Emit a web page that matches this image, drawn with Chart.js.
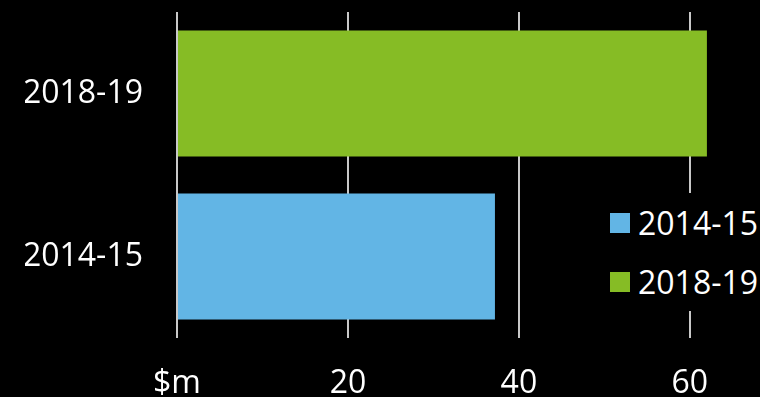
<!DOCTYPE html>
<html>
<head>
<meta charset="utf-8">
<script src="https://cdn.jsdelivr.net/npm/chart.js@4/dist/chart.umd.min.js"></script>
<style>
  html, body { margin: 0; padding: 0; background: #000; }
  #wrap { position: relative; width: 760px; height: 397px; }
  #legend {
    position: absolute; left: 604px; top: 193px;
    background: #000; padding: 0 6px;
    font-family: "Open Sans", sans-serif; font-size: 32px; color: #fff;
    white-space: nowrap;
  }
  #legend .row { display: flex; align-items: center; height: 59px; }
  #legend .sw { width: 20px; height: 20px; margin-right: 8px; flex: none; }
</style>
</head>
<body>
<div id="wrap">
  <canvas id="chart" width="760" height="397"></canvas>
  <div id="legend"></div>
</div>
<script>
// --- Spending by year ($m) ---
const years = ["2014-15", "2018-19"];
const spend = [37.2, 62.0];
const barColors = ["#62b5e5", "#86bc25"];
const xTicks = [0, 20, 40, 60];

const FONT = { family: "Open Sans", size: 32 };

function drawChart() {
  const ctx = document.getElementById("chart").getContext("2d");
  new Chart(ctx, {
    type: "bar",
    data: {
      labels: years,
      datasets: [{
        label: "$m",
        data: spend,
        backgroundColor: barColors,
        barPercentage: 0.773,
        categoryPercentage: 1
      }]
    },
    options: {
      indexAxis: "y",
      responsive: false,
      animation: false,
      layout: { padding: { left: 25, right: 36, top: 12, bottom: 0 } },
      plugins: { legend: { display: false }, tooltip: { enabled: false } },
      scales: {
        x: {
          min: 0,
          max: 64,
          afterBuildTicks: axis => {
            axis.ticks = xTicks.map(v => ({ value: v }));
          },
          afterFit: axis => {
            axis.height = 59;
            axis.paddingLeft = 0;
            axis.paddingRight = 0;
          },
          grid: { color: "#c8c8c8", lineWidth: 2, drawTicks: false },
          border: { display: false },
          ticks: {
            color: "#fff",
            padding: 27,
            font: FONT,
            callback: v => v === 0 ? "$m" : v
          }
        },
        y: {
          reverse: true,
          afterFit: axis => {
            axis.width = 152;
            axis.paddingTop = 0;
            axis.paddingBottom = 0;
          },
          grid: { display: false, drawTicks: false },
          border: { display: false },
          ticks: { color: "#fff", padding: 34, font: FONT }
        }
      }
    }
  });
}

// Legend built from the same year/colour lists
const legend = document.getElementById("legend");
years.forEach((y, i) => {
  const row = document.createElement("div");
  row.className = "row";
  row.innerHTML = `<span class="sw" style="background:${barColors[i]}"></span>${y}`;
  legend.appendChild(row);
});

// wait for the font so label widths are measured right
document.fonts.load('32px "Open Sans"').then(drawChart, drawChart);
</script>
</body>
</html>
